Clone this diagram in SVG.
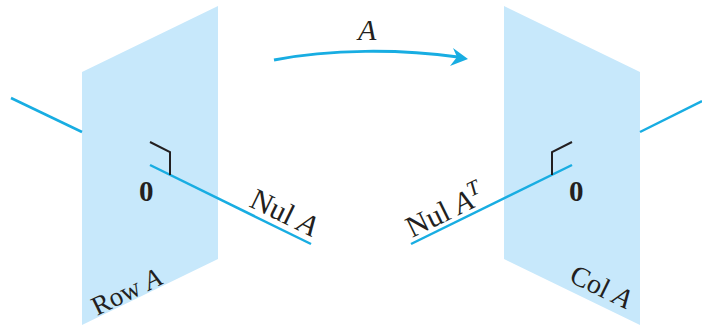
<svg xmlns="http://www.w3.org/2000/svg" width="702" height="327" viewBox="0 0 702 327">
<defs><style>
.plane{fill:#c7e8fb;stroke:none}
.cy{fill:none;stroke:#18ade2;stroke-width:2.5}
.bk{fill:none;stroke:#231f20;stroke-width:2}
text{font-family:"Liberation Serif",serif;fill:#231f20}
.l{font-size:30px}
.s{font-size:27px}
.i{font-style:italic}
.b{font-weight:bold;font-size:29px}
</style></defs>
<rect width="702" height="327" fill="#fff"/>
<g id="row-plane"><polygon class="plane" points="82,72 218,6 218,259 82,325"/><text class="s" transform="translate(97,316) rotate(-26)">Row <tspan class="i">A</tspan></text></g>
<g id="col-plane"><polygon class="plane" points="504,6 640,72 640,325 504,259"/><text class="s" style="font-size:28px" transform="translate(568,281) rotate(26)">Col <tspan class="i">A</tspan></text></g>
<g id="connectors">
<path class="cy" d="M11,98L82,132"/>
<path class="cy" d="M150,165L311,244"/>
<path class="cy" d="M411,244L572,165"/>
<path class="cy" d="M640,132L702,101"/>
<path class="cy" style="stroke-width:3" d="M274,60C330,49 400,49 458,57"/>
<polygon points="468,59 453,48 457,57 450,66" fill="#18ade2"/>
<path class="bk" d="M150,142L170,152V175"/>
<path class="bk" d="M552,175V152L572,142"/>
</g>
<g id="origin-left"><text class="b" x="139" y="201">0</text></g>
<g id="origin-right"><text class="b" x="569" y="201">0</text></g>
<g id="nul-a"><text class="l" transform="translate(248,206) rotate(26)">Nul <tspan class="i">A</tspan></text></g>
<g id="nul-at"><text class="l" transform="translate(412,238) rotate(-26)">Nul <tspan class="i">A<tspan dy="-11" font-size="21">T</tspan></tspan></text></g>
<g id="map-label"><text class="l i" x="358" y="40">A</text></g>
</svg>
